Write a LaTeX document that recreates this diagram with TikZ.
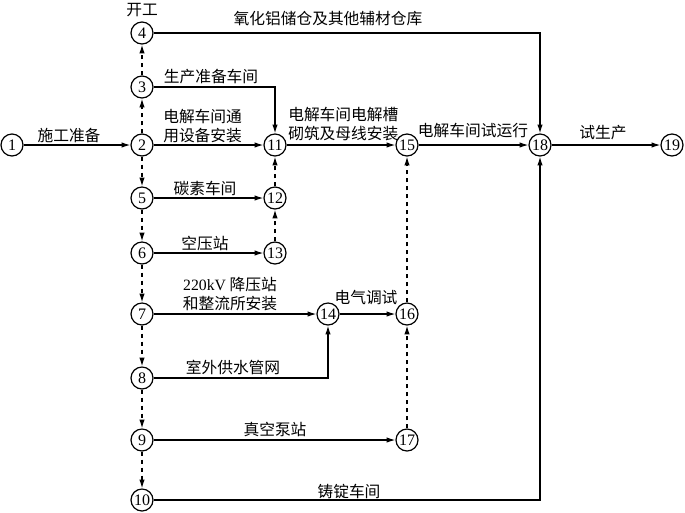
\documentclass[tikz,border=0pt]{standalone}
\usepackage{fontspec}
\setmainfont{Liberation Serif}
\newfontfamily\cjk{Noto Sans CJK SC}
\usetikzlibrary{arrows.meta}

\begin{document}
\begin{tikzpicture}
	[
	x = 0.75pt,
	y = -0.75pt,
	event/.style = {circle, draw = black, line width = 0.9pt, fill = white, minimum size = 16.5pt, inner sep = 0pt, font = \fontsize{12}{12}\selectfont},
	work/.style = {line width = 0.9pt, -{Latex[length = 6.5pt, width = 4pt]}},
	dummy/.style = {work, dash pattern = on 3.5pt off 2.5pt},
	tasktext/.style = {inner sep = 0pt, font = \cjk\fontsize{11.8}{14.5}\selectfont},
	]
	
	\useasboundingbox (0,0) rectangle (685,512);
	
	%% events
	\node[event] (1) at (12,145) {1};
	\node[event] (2) at (142,145) {2};
	\node[event] (3) at (142,87) {3};
	\node[event] (4) at (142,33) {4};
	\node[event] (5) at (142,198) {5};
	\node[event] (6) at (142,253) {6};
	\node[event] (7) at (142,314) {7};
	\node[event] (8) at (142,378) {8};
	\node[event] (9) at (142,440) {9};
	\node[event] (10) at (142,500) {10};
	\node[event] (11) at (275,145) {11};
	\node[event] (12) at (275,198) {12};
	\node[event] (13) at (275,253) {13};
	\node[event] (14) at (328,314) {14};
	\node[event] (15) at (407,145) {15};
	\node[event] (16) at (407,314) {16};
	\node[event] (17) at (407,440) {17};
	\node[event] (18) at (540,145) {18};
	\node[event] (19) at (672,145) {19};
	
	%% works
	\draw[work] (1) -- (2);
	\draw[work] (2) -- (11);
	\draw[work] (3) -| (11);
	\draw[work] (4) -| (18);
	\draw[work] (11) -- (15);
	\draw[work] (15) -- (18);
	\draw[work] (18) -- (19);
	\draw[work] (5) -- (12);
	\draw[work] (6) -- (13);
	\draw[work] (7) -- (14);
	\draw[work] (8) -| (14);
	\draw[work] (14) -- (16);
	\draw[work] (9) -- (17);
	\draw[work] (10) -| (18);
	
	%% dummy works
	\draw[dummy] (2) -- (3);
	\draw[dummy] (3) -- (4);
	\draw[dummy] (2) -- (5);
	\draw[dummy] (5) -- (6);
	\draw[dummy] (6) -- (7);
	\draw[dummy] (7) -- (8);
	\draw[dummy] (8) -- (9);
	\draw[dummy] (9) -- (10);
	\draw[dummy] (12) -- (11);
	\draw[dummy] (13) -- (12);
	\draw[dummy] (16) -- (15);
	\draw[dummy] (17) -- (16);
	
	%% labels
	\node[tasktext] (start) at (142,10) {开工};
	\node[tasktext] (store) at (328,19) {氧化铝储仓及其他辅材仓库};
	\node[tasktext] (prep) at (211,77) {生产准备车间};
	\node[tasktext, anchor = west, align = left] (general) at (163,126) {电解车间通\\用设备安装};
	\node[tasktext] (site) at (69,135) {施工准备};
	\node[tasktext, anchor = west, align = left] (cell) at (288,124) {电解车间电解槽\\砌筑及母线安装};
	\node[tasktext] (trial) at (473,131) {电解车间试运行};
	\node[tasktext] (prod) at (603,133) {试生产};
	\node[tasktext] (carbon) at (205,188) {碳素车间};
	\node[tasktext] (air) at (205,243) {空压站};
	\node[tasktext, align = center] (power) at (230,294) {{\rmfamily 220kV} 降压站\\和整流所安装};
	\node[tasktext] (elec) at (366,297) {电气调试};
	\node[tasktext] (water) at (233,367) {室外供水管网};
	\node[tasktext] (pump) at (275,429) {真空泵站};
	\node[tasktext] (cast) at (349,491) {铸锭车间};
\end{tikzpicture}
\end{document}
